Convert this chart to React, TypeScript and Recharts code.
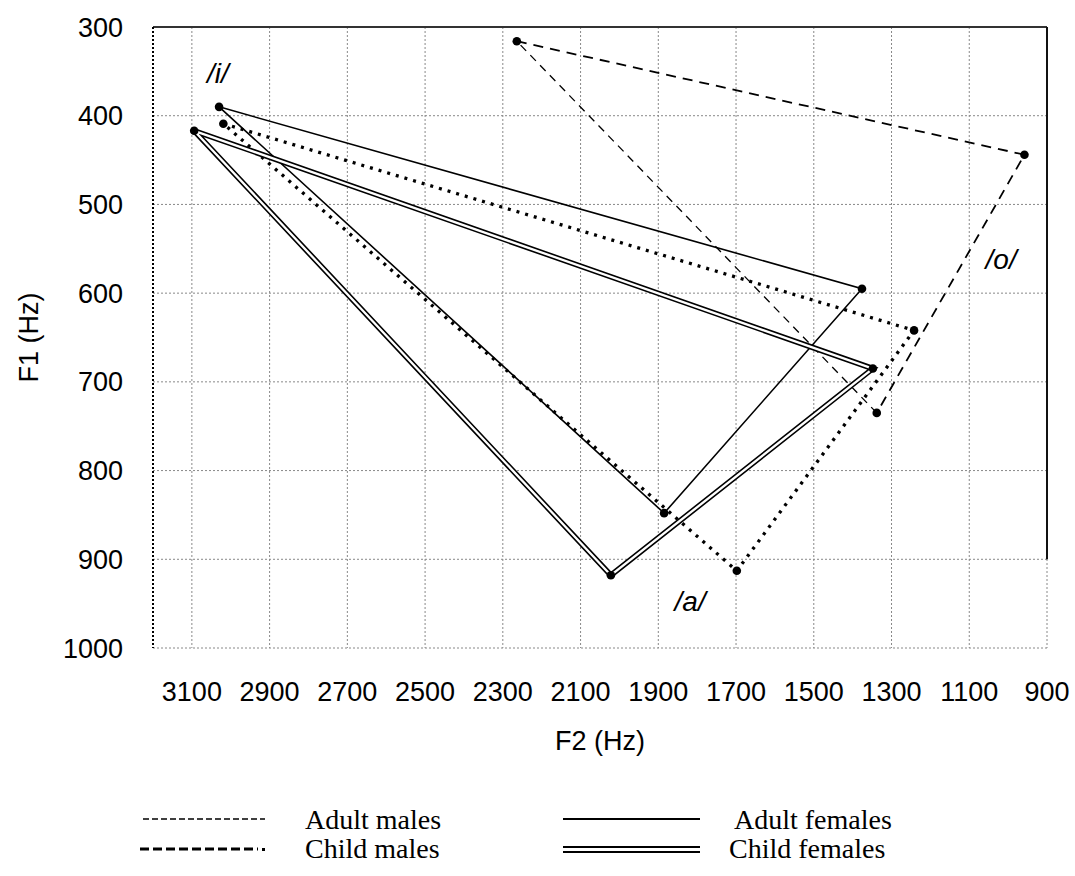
import React from 'react';
import {
  ComposedChart, Line, Scatter, XAxis, YAxis, CartesianGrid, ReferenceLine, ReferenceDot,
} from 'recharts';

// Vowel order: /i/, /o/, /a/
const vowels = ['/i/', '/o/', '/a/'];
const adultMalesF2 = [2264, 958, 1338];
const adultMalesF1 = [316, 444, 735];
const adultFemalesF2 = [3030, 1376, 1885];
const adultFemalesF1 = [390, 595, 848];
const childMalesF2 = [3019, 1242, 1698];
const childMalesF1 = [409, 642, 913];
const childFemalesF2 = [3094, 1348, 2022];
const childFemalesF1 = [417, 685, 918];

const xTicks = [3100, 2900, 2700, 2500, 2300, 2100, 1900, 1700, 1500, 1300, 1100, 900];
const yTicks = [300, 400, 500, 600, 700, 800, 900, 1000];

// label anchors for the vowel names (in Hz)
const vowelLabelF2 = [3033, 1018, 1818];
const vowelLabelF1 = [352, 562, 947];

const pts = (f2: number[], f1: number[], order: number[]) =>
  order.map((i) => ({ f2: f2[i], f1: f1[i], v: vowels[i] }));

const closed = [0, 1, 2, 0];
const adultMalesMain = pts(adultMalesF2, adultMalesF1, [0, 1, 2]);
const adultMalesBack = pts(adultMalesF2, adultMalesF1, [2, 0]);
const adultFemales = pts(adultFemalesF2, adultFemalesF1, closed);
const childMales = pts(childMalesF2, childMalesF1, closed);
const childFemales = pts(childFemalesF2, childFemalesF1, closed);
const allPoints = [
  ...pts(adultMalesF2, adultMalesF1, [0, 1, 2]),
  ...pts(adultFemalesF2, adultFemalesF1, [0, 1, 2]),
  ...pts(childMalesF2, childMalesF1, [0, 1, 2]),
  ...pts(childFemalesF2, childFemalesF1, [0, 1, 2]),
];

const SANS = '"Liberation Sans", Arial, sans-serif';
const SERIF = '"Liberation Serif", "Times New Roman", serif';

const Dot = (p: any) => <circle cx={p.cx} cy={p.cy} r={4.3} fill="#000" />;

export default function App() {
  return (
    <div style={{ position: 'absolute', left: 0, top: 0, width: 1075, height: 876, background: '#fff' }}>
      <ComposedChart
        width={1075}
        height={876}
        margin={{ top: 27, right: 28, left: 0, bottom: 118 }}
      >
        <CartesianGrid stroke="#888" strokeDasharray="2 2" />
        <XAxis
          type="number"
          dataKey="f2"
          domain={[900, 3200]}
          reversed
          ticks={xTicks}
          interval={0}
          allowDataOverflow
          axisLine={false}
          tickLine={false}
          tickSize={0}
          tickMargin={34}
          height={110}
          tick={{ fontSize: 27, fill: '#000', fontFamily: SANS }}
          label={{ value: 'F2 (Hz)', position: 'insideBottom', offset: 8, style: { fontSize: 27, fill: '#000', fontFamily: SANS } }}
        />
        <YAxis
          type="number"
          dataKey="f1"
          domain={[300, 1000]}
          reversed
          ticks={yTicks}
          interval={0}
          allowDataOverflow
          width={153}
          axisLine={{ stroke: '#000', strokeWidth: 2, strokeDasharray: '2 2' }}
          tickLine={false}
          tickSize={0}
          tickMargin={30}
          tick={{ fontSize: 27, fill: '#000', fontFamily: SANS }}
          label={{ value: 'F1 (Hz)', angle: -90, position: 'insideLeft', offset: 28, style: { fontSize: 27, fill: '#000', fontFamily: SANS, textAnchor: 'middle' } }}
        />
        <ReferenceLine y={300} stroke="#333" strokeWidth={2} />
        <ReferenceLine segment={[{ x: 900, y: 300 }, { x: 900, y: 900 }]} stroke="#111" strokeWidth={2} />

        <Line data={adultMalesBack} dataKey="f1" type="linear" stroke="#000" strokeWidth={1.3} strokeDasharray="8 6" dot={false} activeDot={false} isAnimationActive={false} />
        <Line data={adultMalesMain} dataKey="f1" type="linear" stroke="#000" strokeWidth={1.8} strokeDasharray="10 7" dot={false} activeDot={false} isAnimationActive={false} />
        <Line data={adultFemales} dataKey="f1" type="linear" stroke="#000" strokeWidth={1.6} dot={false} activeDot={false} isAnimationActive={false} />
        <Line data={childMales} dataKey="f1" type="linear" stroke="#000" strokeWidth={3.3} strokeDasharray="3 6" dot={false} activeDot={false} isAnimationActive={false} />
        <Line data={childFemales} dataKey="f1" type="linear" stroke="#000" strokeWidth={5.5} dot={false} activeDot={false} isAnimationActive={false} />
        <Line data={childFemales} dataKey="f1" type="linear" stroke="#fff" strokeWidth={2.3} dot={false} activeDot={false} isAnimationActive={false} />
        <Scatter data={allPoints} dataKey="f1" fill="#000" shape={Dot} isAnimationActive={false} />

        {vowels.map((v, i) => (
          <ReferenceDot
            key={v}
            x={vowelLabelF2[i]}
            y={vowelLabelF1[i]}
            r={0}
            stroke="none"
            label={{ value: v, position: 'center', style: { fontSize: 28, fontStyle: 'italic', fill: '#000', fontFamily: SANS } }}
          />
        ))}
      </ComposedChart>

      <svg width={1075} height={120} style={{ position: 'absolute', left: 0, top: 790 }}>
        <g fontFamily={SERIF} fontSize={28} fill="#000">
          <line x1={143} x2={265} y1={29} y2={29} stroke="#000" strokeWidth={1.3} strokeDasharray="6 3" />
          <text x={305} y={39}>Adult males</text>
          <line x1={563} x2={700} y1={29} y2={29} stroke="#000" strokeWidth={2.2} />
          <text x={734} y={39}>Adult females</text>
          <line x1={140} x2={258} y1={59} y2={59} stroke="#000" strokeWidth={3} strokeDasharray="9 4" />
          <rect x={262} y={58} width={3} height={3} fill="#000" />
          <text x={305} y={68}>Child males</text>
          <line x1={563} x2={700} y1={57} y2={57} stroke="#000" strokeWidth={2} />
          <line x1={563} x2={700} y1={62} y2={62} stroke="#000" strokeWidth={2} />
          <text x={729} y={68}>Child females</text>
        </g>
      </svg>
    </div>
  );
}
